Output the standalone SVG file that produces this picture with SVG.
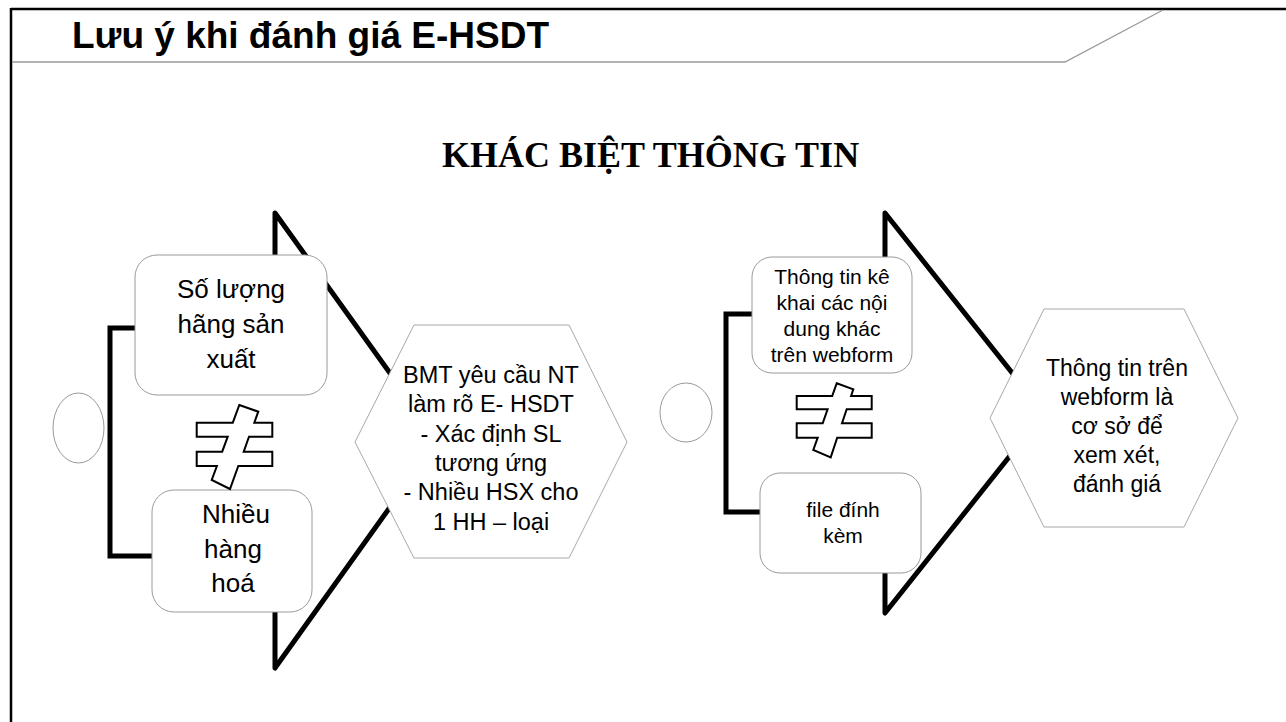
<svg xmlns="http://www.w3.org/2000/svg" width="1286" height="722" viewBox="0 0 1286 722">
<style>
.frame{stroke:#000;stroke-width:2.5;fill:none}
.rule{stroke:#999;stroke-width:1.3;fill:none}
.chev{stroke:#000;stroke-width:5;fill:none;stroke-linejoin:round;stroke-linecap:round}
.brk{stroke:#000;stroke-width:5;fill:none;stroke-linejoin:miter}
.box{fill:#fff;stroke:#9a9a9a;stroke-width:1}
.hex{fill:#fff;stroke:#a8a8a8;stroke-width:1}
.oval{fill:#fff;stroke:#999;stroke-width:1}
.neq{fill:#fff;stroke:#000;stroke-width:2;stroke-linejoin:miter}
.t{font-family:"Liberation Sans",Arial,sans-serif;fill:#000;text-anchor:middle}
.title{font-family:"Liberation Sans",Arial,sans-serif;font-weight:bold;font-size:37px;fill:#000}
.sub{font-family:"Liberation Serif","Times New Roman",serif;font-weight:bold;font-size:36px;fill:#000}
</style>
<rect width="1286" height="722" fill="#fff"/>
<g id="frame">
<line class="frame" x1="11" y1="9" x2="1286" y2="9"/>
<line class="frame" x1="11" y1="8" x2="11" y2="722"/>
<polyline class="rule" points="12,62 1065,62 1163,10"/>
</g>
<g id="title"><text class="title" x="72" y="48">Lưu ý khi đánh giá E-HSDT</text></g>
<g id="subtitle"><text class="sub" x="442" y="167">KHÁC BIỆT THÔNG TIN</text></g>

<g id="connectors">
<path class="chev" d="M275,257 L275,213 L438,440 L275,668 L275,612"/>
<path class="brk" d="M136,328 H110 V556 H153"/>
<path class="chev" d="M885,258 L885,213 L1044,413 L885,613 L885,573"/>
<path class="brk" d="M753,314 H726 V512 H761"/>
</g>

<g id="oval-left"><ellipse class="oval" cx="78.5" cy="428" rx="25.5" ry="35"/></g>
<g id="oval-right"><ellipse class="oval" cx="686" cy="412.5" rx="26" ry="29.5"/></g>

<g id="box-so-luong">
<rect class="box" x="135" y="255" width="192" height="140" rx="22"/>
<text class="t" font-size="26" x="231"><tspan x="231" y="298">Số lượng</tspan><tspan x="231" y="333">hãng sản</tspan><tspan x="231" y="368">xuất</tspan></text>
</g>
<g id="box-nhieu-hang-hoa">
<rect class="box" x="152" y="490" width="160" height="122" rx="22"/>
<text class="t" font-size="26"><tspan x="236" y="523">Nhiều</tspan><tspan x="233" y="558">hàng</tspan><tspan x="233" y="592">hoá</tspan></text>
</g>
<g id="neq-left">
<path class="neq" d="M239.3,405 L258.3,411.7 L254.3,422.7 L272.3,422.7 L272.3,436.7 L249,436.7 L243.7,451.7 L272.3,451.7 L272.3,466 L238.3,466 L230,489 L211.7,480 L216.9,466 L196.7,466 L196.7,451.7 L222.2,451.7 L227.7,436.7 L196.7,436.7 L196.7,422.7 L232.8,422.7 Z"/>
</g>
<g id="hex-bmt">
<polygon class="hex" points="355,442 414,325 569,325 627,442 569,558 414,558"/>
<text class="t" font-size="23.5"><tspan x="491" y="383">BMT yêu cầu NT</tspan><tspan x="491" y="412">làm rõ E- HSDT</tspan><tspan x="491" y="442">- Xác định SL</tspan><tspan x="491" y="471">tương ứng</tspan><tspan x="491" y="500">- Nhiều HSX cho</tspan><tspan x="491" y="530">1 HH – loại</tspan></text>
</g>

<g id="box-thong-tin-ke-khai">
<rect class="box" x="752" y="257" width="160" height="116" rx="20"/>
<text class="t" font-size="21"><tspan x="832" y="284">Thông tin kê</tspan><tspan x="832" y="310">khai các nội</tspan><tspan x="832" y="336">dung khác</tspan><tspan x="832" y="362">trên webform</tspan></text>
</g>
<g id="box-file-dinh-kem">
<rect class="box" x="760" y="473" width="161" height="100" rx="20"/>
<text class="t" font-size="21"><tspan x="843" y="517">file đính</tspan><tspan x="843" y="543">kèm</tspan></text>
</g>
<g id="neq-right">
<path class="neq" d="M836.7,383.3 L853.3,389.3 L851.1,396 L871.7,396 L871.7,409.3 L846.7,409.3 L842,423.3 L871.7,423.3 L871.7,437.7 L837.2,437.7 L830.7,457.3 L813.3,450 L817.7,437.7 L796.7,437.7 L796.7,423.3 L822.7,423.3 L827.6,409.3 L796.7,409.3 L796.7,396 L832.2,396 Z"/>
</g>
<g id="hex-webform">
<polygon class="hex" points="990,418 1044,309 1184,309 1238,418 1184,527 1044,527"/>
<text class="t" font-size="23"><tspan x="1117" y="376">Thông tin trên</tspan><tspan x="1117" y="405">webform là</tspan><tspan x="1117" y="434">cơ sở để</tspan><tspan x="1117" y="463">xem xét,</tspan><tspan x="1117" y="492">đánh giá</tspan></text>
</g>
</svg>
